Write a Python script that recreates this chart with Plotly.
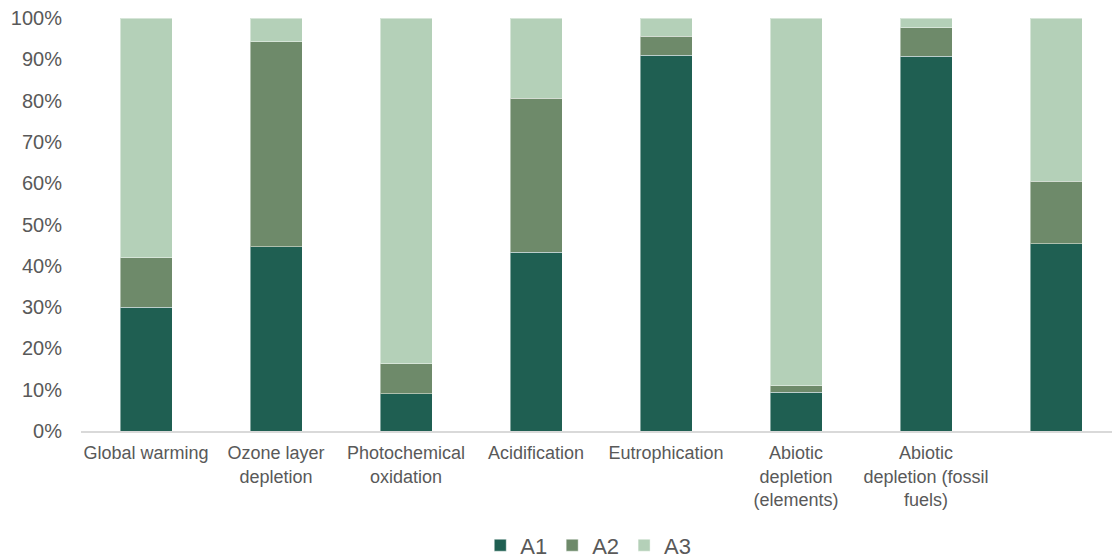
import plotly.graph_objects as go

# Impact categories (the last column has no label)
categories = [
    "Global warming",
    "Ozone layer<br>depletion",
    "Photochemical<br>oxidation",
    "Acidification",
    "Eutrophication",
    "Abiotic<br>depletion<br>(elements)",
    "Abiotic<br>depletion (fossil<br>fuels)",
    "",
]

# Share of each alternative, in percent
a1 = [30.0, 44.6, 9.0, 43.3, 91.0, 9.4, 90.8, 45.3]
a2 = [11.9, 49.6, 7.3, 37.3, 4.6, 1.5, 6.8, 15.2]
a3 = [58.1, 5.8, 83.7, 19.4, 4.4, 89.1, 2.4, 39.5]

y_ticks = [0, 10, 20, 30, 40, 50, 60, 70, 80, 90, 100]
y_tick_labels = [f"{v}%" for v in y_ticks]

series = [("A1", a1, "#1F5F52"), ("A2", a2, "#6E8A6A"), ("A3", a3, "#B4D0B8")]

x_pos = list(range(len(categories)))
FONT = "Liberation Sans, Arial, sans-serif"
GREY = "#595959"

fig = go.Figure()
for name, vals, color in series:
    fig.add_trace(go.Bar(
        name=name,
        x=x_pos,
        y=vals,
        width=0.4,
        marker=dict(color=color, line=dict(color="rgba(255,255,255,0.45)", width=1)),
    ))

fig.update_layout(
    barmode="stack",
    width=1112,
    height=558,
    margin=dict(l=81, r=0, t=18, b=127, autoexpand=False),
    paper_bgcolor="white",
    plot_bgcolor="white",
    font=dict(family=FONT, color=GREY),
    showlegend=True,
    legend=dict(
        orientation="h",
        x=0.492, xanchor="center",
        y=-0.277, yanchor="middle",
        font=dict(size=22, color=GREY, family=FONT),
        itemwidth=30,
        traceorder="normal",
    ),
    xaxis=dict(
        range=[-0.5, 7.43],
        tickmode="array",
        tickvals=x_pos,
        ticktext=categories,
        showgrid=False,
        zeroline=False,
        showline=True,
        linecolor="#D9D9D9",
        linewidth=1.5,
        ticks="",
        tickfont=dict(size=18, color=GREY, family=FONT),
        ticklabelstandoff=5,
        automargin=False,
    ),
    yaxis=dict(
        range=[0, 100],
        tickmode="array",
        tickvals=y_ticks,
        ticktext=y_tick_labels,
        showgrid=False,
        zeroline=False,
        showline=False,
        ticks="",
        tickfont=dict(size=20, color=GREY, family=FONT),
        ticklabelstandoff=18,
        automargin=False,
    ),
)

fig.write_html("out.html")
